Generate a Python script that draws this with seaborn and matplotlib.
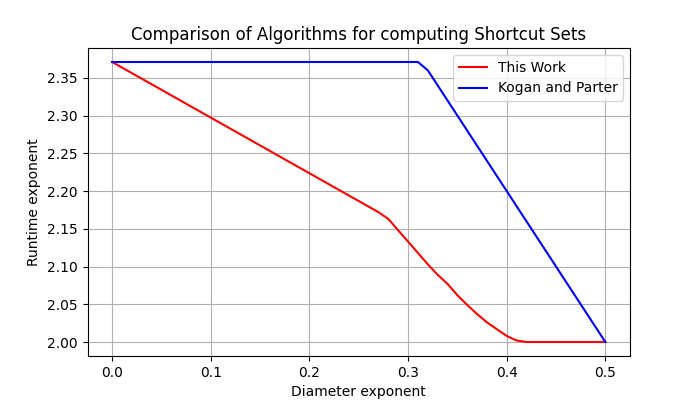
import matplotlib
matplotlib.use("Agg")
import matplotlib.pyplot as plt
import seaborn as sns

# Data
this_work_x = [0.0, 0.27, 0.28, 0.29, 0.30, 0.31, 0.32, 0.33, 0.34, 0.35, 0.36,
               0.37, 0.38, 0.39, 0.40, 0.41, 0.42, 0.50]
this_work_y = [2.371, 2.172, 2.163, 2.148, 2.133, 2.118, 2.103, 2.089, 2.077, 2.062,
               2.049, 2.037, 2.026, 2.017, 2.008, 2.002, 2.000, 2.000]

kogan_x = [0.0, 0.31, 0.32, 0.50]
kogan_y = [2.371, 2.371, 2.36, 2.000]

fig, ax = plt.subplots(figsize=(7, 4), dpi=100)

sns.lineplot(x=this_work_x, y=this_work_y, color="red", label="This Work", ax=ax)
sns.lineplot(x=kogan_x, y=kogan_y, color="blue", label="Kogan and Parter", ax=ax)

ax.set_title("Comparison of Algorithms for computing Shortcut Sets")
ax.set_xlabel("Diameter exponent")
ax.set_ylabel("Runtime exponent")
ax.grid(True)
ax.legend(loc="upper right")

fig.savefig("out.png", dpi=100)
